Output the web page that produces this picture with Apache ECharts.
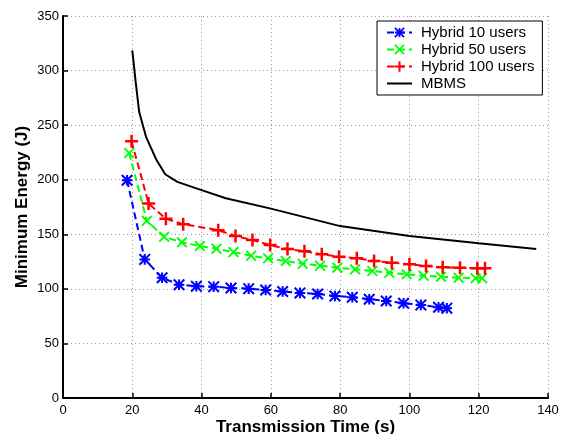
<!DOCTYPE html>
<html>
<head>
<meta charset="utf-8">
<script src="https://cdn.jsdelivr.net/npm/echarts@6/dist/echarts.min.js"></script>
<style>
  html, body { margin: 0; padding: 0; background: #fff; }
  #chart { width: 568px; height: 434px; }
</style>
</head>
<body>
<div id="chart"></div>
<script>
// Transmission time (s) and minimum energy (J) for each scheme
const hybrid10X = [18.5, 23.6, 28.6, 33.5, 38.5, 43.5, 48.5, 53.6, 58.5, 63.4, 68.4, 73.5, 78.5, 83.5, 88.4, 93.3, 98.3, 103.3, 108.4, 110.8];
const hybrid10Y = [199.5, 127, 110.2, 103.8, 102.4, 102, 100.8, 100.2, 99, 97.6, 96.3, 95.3, 93.5, 92.3, 90.5, 88.9, 86.8, 85.3, 83.2, 82.3];

const hybrid50X = [19.1, 24.2, 29.2, 34.3, 39.5, 44.3, 49.2, 54.3, 59.2, 64.3, 69.2, 74.2, 79.2, 84.3, 89.3, 94.2, 99.2, 104.1, 109.1, 114.2, 119.1, 121];
const hybrid50Y = [224.5, 162.3, 147.7, 142.6, 139.2, 136.7, 133.7, 130.3, 128, 125.5, 123, 121.2, 119.4, 117.9, 116.4, 114.8, 113.3, 112, 111.2, 110.2, 109.7, 109.7];

const hybrid100X = [19.8, 24.7, 29.7, 34.7, 44.8, 49.8, 54.7, 59.8, 64.8, 69.7, 74.7, 79.7, 84.8, 89.8, 94.9, 100, 104.8, 109.6, 114.6, 119.6, 121.8];
const hybrid100Y = [235.2, 178.2, 164.2, 159.3, 153.8, 148.4, 144.7, 140.1, 136.5, 134.5, 131.6, 129.4, 128, 125.5, 124, 122.5, 121, 119.7, 119.4, 118.8, 118.8];

const mbmsX = [20, 21, 22, 24, 27, 29.5, 33, 40, 47, 60, 80, 100, 120, 136.6];
const mbmsY = [318.5, 289, 262, 239, 218, 205, 198, 190.5, 183, 173.5, 157.5, 148.4, 141.7, 136.5];

const seriesNames = ['Hybrid 10 users', 'Hybrid 50 users', 'Hybrid 100 users', 'MBMS'];
const xTicks = { min: 0, max: 140, step: 20 };
const yTicks = { min: 0, max: 350, step: 50 };

function pairs(xs, ys) { return xs.map((x, i) => [x, ys[i]]); }

// Stroke-style marker glyphs built as filled outlines
const t = 1.15, a = 6, d = t / Math.SQRT2;
const plusPath = `M${-t},${-a}H${t}V${-t}H${a}V${t}H${t}V${a}H${-t}V${t}H${-a}V${-t}H${-t}Z`;
const diag1 = `M${-a + d},${-a - d}L${a + d},${a - d}L${a - d},${a + d}L${-a - d},${-a + d}Z`;
const diag2 = `M${a - d},${-a - d}L${a + d},${-a + d}L${-a + d},${a + d}L${-a - d},${a - d}Z`;
const markPlus = 'path://' + plusPath;
const markCross = 'path://' + diag1 + diag2;
const markStar = 'path://' + plusPath + diag1 + diag2;

const font = 'Liberation Sans, Arial, Helvetica, sans-serif';

function dashedSeries(name, xs, ys, color, symbol, size) {
  return {
    name, type: 'line', data: pairs(xs, ys),
    symbol, symbolSize: size, showSymbol: true,
    itemStyle: { color, borderWidth: 0 },
    lineStyle: { color, width: 2, type: [7, 4] },
    emphasis: { disabled: true }
  };
}

const chart = echarts.init(document.getElementById('chart'), null, { renderer: 'canvas' });
chart.setOption({
  backgroundColor: '#fff',
  animation: false,
  grid: { left: 63, right: 20, top: 16, bottom: 36, containLabel: false, outerBoundsMode: 'none' },
  xAxis: {
    type: 'value', min: xTicks.min, max: xTicks.max, interval: xTicks.step,
    name: 'Transmission Time (s)', nameLocation: 'middle', nameGap: 21, nameMoveOverlap: false,
    nameTextStyle: { fontFamily: font, fontSize: 17, fontWeight: 'bold', color: '#000' },
    axisLine: { show: true, onZero: false, lineStyle: { color: '#000', width: 2 } },
    axisTick: { show: true, inside: true, length: 5, lineStyle: { color: '#000', width: 1.5 } },
    axisLabel: { fontFamily: font, fontSize: 13, color: '#000', margin: 6 },
    splitLine: { show: true, lineStyle: { color: '#9a9a9a', width: 1, type: [1, 3] } }
  },
  yAxis: {
    type: 'value', min: yTicks.min, max: yTicks.max, interval: yTicks.step,
    name: 'Minimum Energy (J)', nameLocation: 'middle', nameGap: 32, nameMoveOverlap: false,
    nameTextStyle: { fontFamily: font, fontSize: 17, fontWeight: 'bold', color: '#000' },
    axisLine: { show: true, onZero: false, lineStyle: { color: '#000', width: 2 } },
    axisTick: { show: true, inside: true, length: 5, lineStyle: { color: '#000', width: 1.5 } },
    axisLabel: { fontFamily: font, fontSize: 13, color: '#000', margin: 4 },
    splitLine: { show: true, lineStyle: { color: '#9a9a9a', width: 1, type: [1, 3] } }
  },
  legend: {
    show: true, orient: 'vertical', left: 377, top: 21,
    padding: [4, 8, 4, 9], itemGap: 2, itemWidth: 25, itemHeight: 13,
    backgroundColor: '#fff', borderColor: '#000', borderWidth: 1, borderRadius: 0,
    textStyle: { fontFamily: font, fontSize: 15, color: '#000', padding: [0, 0, 0, 4] },
    data: [
      seriesNames[0], seriesNames[1], seriesNames[2],
      { name: seriesNames[3], itemStyle: { opacity: 0 } }
    ]
  },
  series: [
    dashedSeries(seriesNames[0], hybrid10X, hybrid10Y, '#0000ff', markStar, 12),
    dashedSeries(seriesNames[1], hybrid50X, hybrid50Y, '#00ff00', markCross, 11),
    dashedSeries(seriesNames[2], hybrid100X, hybrid100Y, '#ff0000', markPlus, 13),
    {
      name: seriesNames[3], type: 'line', data: pairs(mbmsX, mbmsY),
      symbol: 'none', smooth: false,
      itemStyle: { color: '#000' },
      lineStyle: { color: '#000', width: 2 },
      emphasis: { disabled: true }
    }
  ]
});
</script>
</body>
</html>
